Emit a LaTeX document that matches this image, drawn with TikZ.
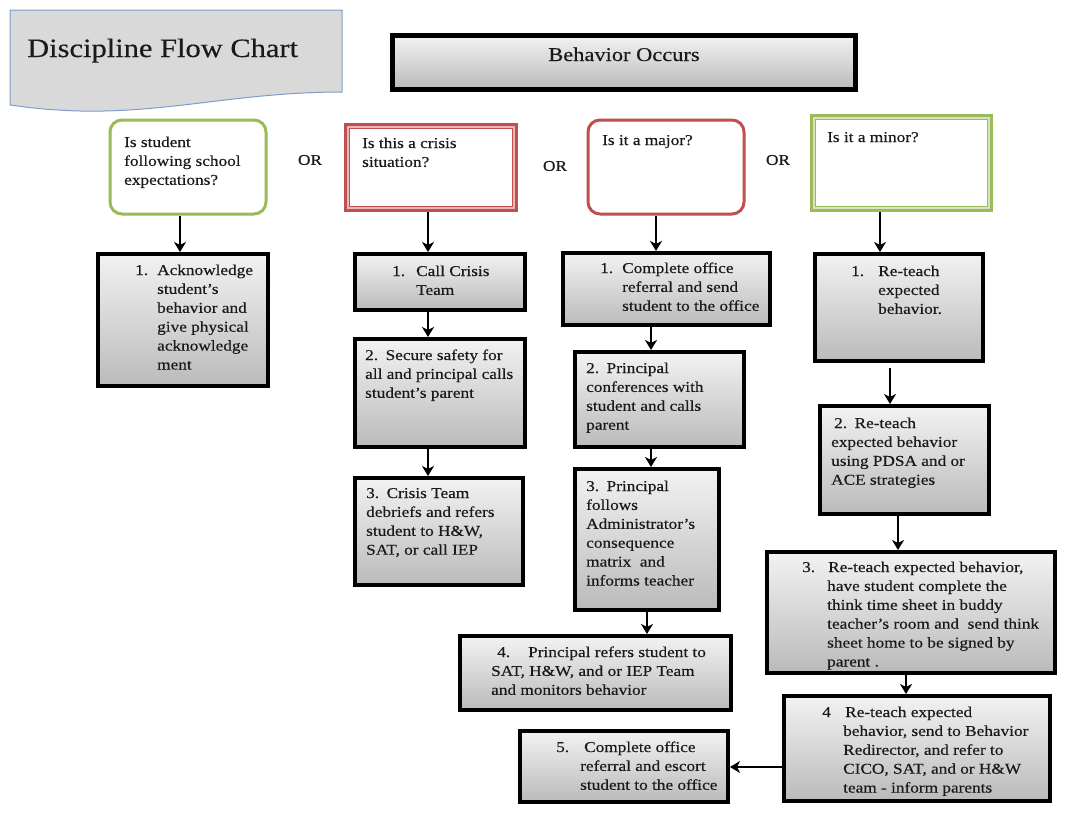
\documentclass[tikz,border=0pt]{standalone}
\usepackage{fontspec}
\setmainfont{Liberation Serif}[FakeStretch=1.15,FakeBold=0.35]
\usetikzlibrary{arrows.meta,shadows,calc}

\definecolor{ttlfill}{HTML}{D9D9D9}
\definecolor{ttlline}{HTML}{7F9DCB}
\definecolor{qgreen}{HTML}{9BBB59}
\definecolor{qred}{HTML}{C0504D}
\definecolor{inkcol}{HTML}{1A1A1A}

% one line-stack of text whose base is the first baseline
\newcommand\rows[1]{\begin{tabular}[t]{@{}l@{}}#1\end{tabular}}

\tikzset{
  every node/.style={font=\fontsize{15}{18.9}\selectfont, text=inkcol, inner sep=0pt},
  stepbox/.style={draw=black, line width=4pt, top color=black!5, bottom color=black!27,
    drop shadow={shadow xshift=2pt, shadow yshift=-2pt, fill=black!45, opacity=0.6}},
  qround/.style={draw=#1, line width=3pt, rounded corners=12pt, fill=white},
  qdouble/.style={draw=#1, line width=6pt, fill=white},
  qstripe/.style={draw=#1!40, line width=1.3pt},
  txt/.style={anchor=base west},
  arr/.style={line width=2.6pt, draw=black, -{Stealth[length=10pt,width=12pt,inset=3pt]}},
}

% box given by its outer edges x1 y1 x2 y2
\newcommand\actbox[6][stepbox]{%
  \node[#1, minimum width={(#5-#3-4)*1pt}, minimum height={(#6-#4-4)*1pt}]
    (#2) at ({(#3+#5)/2},{(#4+#6)/2}) {};}
% light inner stripe of a double-ruled question box
\newcommand\stripe[2]{%
  \draw[qstripe=#2] ([shift={(4.1pt,-4.1pt)}]#1.north west) rectangle ([shift={(-4.1pt,4.1pt)}]#1.south east);}

\begin{document}
\begin{tikzpicture}[x=1pt,y=-1pt]
\useasboundingbox (0,0) rectangle (1068,815);
\fill[white] (0,0) rectangle (1068,815);

% title banner with wavy lower edge
\filldraw[fill=ttlfill, draw=ttlline, line width=1pt]
  (10,10) -- (342,10) -- (342,92)
  .. controls (240,92) and (170,113) .. (80,111)
  .. controls (45,110) and (25,107) .. (10,105) -- cycle;
\node[txt, font=\fontsize{26.5}{30}\selectfont] (title) at (27,57) {Discipline Flow Chart};

% start box
\node[draw=black, line width=5pt, top color=black!5, bottom color=black!27,
      minimum width=463pt, minimum height=54pt,
      drop shadow={shadow xshift=1.5pt, shadow yshift=-1.5pt, fill=black!30, opacity=0.5}]
  (beh) at (624,62.5) {};
\node[anchor=base, font=\fontsize{19.5}{22}\selectfont] (behT) at (624,61) {Behavior Occurs};

% question boxes
\actbox[qround=qgreen]{q1}{108}{118}{268}{216}
\actbox[qdouble=qred]{q2}{345}{124}{517}{211}
\stripe{q2}{qred}
\actbox[qround=qred]{q3}{586}{118}{746}{216}
\actbox[qdouble=qgreen]{q4}{811}{115}{992}{211}
\stripe{q4}{qgreen}

\node[txt] (q1T) at (124,147) {\rows{Is student\\following school\\expectations?}};
\node[txt] (q2T) at (362,148) {\rows{Is this a crisis\\situation?}};
\node[txt] (q3T) at (602,145) {Is it a major?};
\node[txt] (q4T) at (827,142) {Is it a minor?};

\node (or1) at (310,160) {OR};
\node (or2) at (555,166) {OR};
\node (or3) at (778,160) {OR};

% action boxes
\actbox{a1}{96}{252}{270}{388}
\actbox{b1}{353}{252}{527}{312}
\actbox{b2}{353}{337}{527}{449}
\actbox{b3}{353}{476}{525}{587}
\actbox{c1}{561}{251}{772}{327}
\actbox{c2}{573}{350}{746}{449}
\actbox{c3}{573}{467}{721}{612}
\actbox{c4}{458}{634}{733}{712}
\actbox{c5}{518}{729}{730}{804}
\actbox{d1}{813}{252}{985}{363}
\actbox{d2}{818}{404}{991}{516}
\actbox{d3}{765}{550}{1057}{675}
\actbox{d4}{782}{694}{1052}{803}

% texts of the action boxes
\node[txt] (a1T) at (135,275) {\rows{\makebox[22pt][l]{1.}Acknowledge\\\hspace{22pt}student’s\\\hspace{22pt}behavior and\\\hspace{22pt}give physical\\\hspace{22pt}acknowledge\\\hspace{22pt}ment}};
\node[txt] (b1T) at (392,276) {\rows{\makebox[24pt][l]{1.}Call Crisis\\\hspace{24pt}Team}};
\node[txt] (b2T) at (365,360) {\rows{2.\enspace Secure safety for\\all and principal calls\\student’s parent}};
\node[txt] (b3T) at (366,498) {\rows{3.\enspace Crisis Team\\debriefs and refers\\student to H\&W,\\SAT, or call IEP}};
\node[txt] (c1T) at (600,273) {\rows{\makebox[22pt][l]{1.}Complete office\\\hspace{22pt}referral and send\\\hspace{22pt}student to the office}};
\node[txt] (c2T) at (586,373) {\rows{2.\enspace Principal\\conferences with\\student and calls\\parent}};
\node[txt] (c3T) at (586,491) {\rows{3.\enspace Principal\\follows\\Administrator’s\\consequence\\matrix\ \ and\\informs teacher}};
\node[txt] (c4T) at (491,657) {\rows{\hspace{6pt}\makebox[31pt][l]{4.}Principal refers student to\\SAT, H\&W, and or IEP Team\\and monitors behavior}};
\node[txt] (c5T) at (556,752) {\rows{\makebox[28pt][l]{5.}Complete office\\\hspace{24pt}referral and escort\\\hspace{24pt}student to the office}};
\node[txt] (d1T) at (851,276) {\rows{\makebox[27pt][l]{1.}Re-teach\\\hspace{27pt}expected\\\hspace{27pt}behavior.}};
\node[txt] (d2T) at (831,428) {\rows{\hspace{3pt}2.\enspace Re-teach\\expected behavior\\using PDSA and or\\ACE strategies}};
\node[txt] (d3T) at (802,572) {\rows{\makebox[26pt][l]{3.}Re-teach expected behavior,\\\hspace{25pt}have student complete the\\\hspace{25pt}think time sheet in buddy\\\hspace{25pt}teacher’s room and\ \ send think\\\hspace{25pt}sheet home to be signed by\\\hspace{25pt}parent .}};
\node[txt] (d4T) at (822,717) {\rows{\makebox[23pt][l]{4}Re-teach expected\\\hspace{21pt}behavior, send to Behavior\\\hspace{21pt}Redirector, and refer to\\\hspace{21pt}CICO, SAT, and or H\&W\\\hspace{21pt}team - inform parents}};

% connectors
\draw[arr] ([xshift=-8pt]q1.south) -- ([xshift=-8pt]q1.south |- a1.north);
\draw[arr] ([xshift=-3pt]q2.south) -- ([xshift=-3pt]q2.south |- b1.north);
\draw[arr] ([xshift=-10pt]q3.south) -- ([xshift=-10pt]q3.south |- c1.north);
\draw[arr] ([xshift=-21.5pt]q4.south) -- ([xshift=-21.5pt]q4.south |- d1.north);

\draw[arr] ([xshift=-12pt]b1.south) -- ([xshift=-12pt]b1.south |- b2.north);
\draw[arr] ([xshift=-12pt]b2.south) -- ([xshift=-12pt]b2.south |- b3.north);

\draw[arr] ([xshift=-15.5pt]c1.south) -- ([xshift=-15.5pt]c1.south |- c2.north);
\draw[arr] ([xshift=-8.5pt]c2.south) -- ([xshift=-8.5pt]c2.south |- c3.north);
\draw[arr] (c3.south) -- (c3.south |- c4.north);

\draw[arr] ([xshift=-9pt,yshift=-5pt]d1.south) -- ([xshift=-9pt]d1.south |- d2.north);
\draw[arr] ([xshift=-6.5pt]d2.south) -- ([xshift=-6.5pt]d2.south |- d3.north);
\draw[arr] ([xshift=-5pt]d3.south) -- ([xshift=-5pt]d3.south |- d4.north);

\draw[arr] ([yshift=-18.5pt]d4.west) -- ([yshift=-18.5pt]d4.west -| c5.east);
\end{tikzpicture}
\end{document}
